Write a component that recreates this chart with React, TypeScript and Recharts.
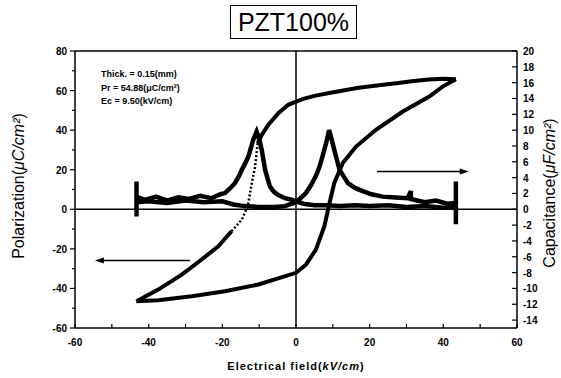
import { ComposedChart, Line, XAxis, YAxis, ReferenceLine, ReferenceDot } from 'recharts'

// hysteresis loop, polarization (uC/cm2) vs field (kV/cm)
const upperE = [43.4, 40, 36, 32, 27.2, 22, 17, 13.6, 9, 5, 2, 0, -2.1, -4.8, -7.5, -9.3, -10.4]
const upperP = [65.7, 66.0, 65.6, 64.8, 63.7, 62.6, 61.4, 60.3, 58.8, 57.3, 55.8, 54.4, 52.8, 48.6, 42.7, 37.6, 33.4]
const switchE = [-10.4, -11.1, -12.0, -13.1, -14.7, -17.5]
const switchP = [33.4, 21.6, 13.3, 1.5, -5.2, -11.1]
const lowerE = [-17.5, -21.1, -25.6, -31, -37.4, -43.3, -37.4, -28.3, -19.3, -10.2, 0, 2.7, 5.4, 7.7, 9.1, 10.4, 12.7, 16.3, 21.7, 29, 36.2, 39.8, 43.4]
const lowerP = [-11.1, -18.7, -25.4, -33, -40.6, -46.5, -46, -43.9, -41.4, -38, -32.1, -28, -20.4, -8.6, 3.2, 13.3, 23.4, 31.7, 40.2, 49.4, 57, 62, 65.7]

// capacitance (uF/cm2), two sweeps
const capAE = [-43.3, -43.3, -43.3, -41, -38, -35, -32, -29, -26, -23, -20.5, -19.3, -18, -16.6, -15.6, -14.7, -13.8, -12.9, -11.6, -10.7, -9.9, -9.3, -8.4, -7.1, -6, -4.8, -3, -1, 0, 2, 5, 8, 12, 16, 20, 25, 30, 35, 40, 43.4]
const capAC = [3.5, -0.9, 1.6, 1.2, 1.6, 1.1, 1.5, 1.3, 1.7, 1.4, 1.9, 2.05, 2.6, 3.3, 4.1, 5.0, 5.8, 6.7, 8.8, 9.8, 8.7, 7.5, 5.0, 2.9, 2.2, 1.8, 1.4, 1.2, 1.0, 0.7, 0.5, 0.5, 0.4, 0.5, 0.4, 0.5, 0.3, 0.4, 0.2, 0.3]
const capBE = [-43.3, -40, -35, -30, -25, -20, -17, -14, -10, -6, -3, 0, 1, 2.7, 4, 5.4, 6.4, 7.2, 8.2, 9.0, 9.7, 10.4, 11.8, 14.1, 16, 18.1, 20.5, 23.5, 27, 30.3, 31.2, 31.2, 32, 35, 38, 41, 43.4, 43.4, 43.4]
const capBC = [0.9, 1.0, 0.8, 1.1, 0.9, 1.0, 0.6, 0.4, 0.3, 0.3, 0.4, 0.9, 1.3, 2.05, 3.0, 4.2, 5.4, 6.7, 8.4, 10.0, 8.8, 7.5, 5.0, 3.3, 2.7, 2.3, 1.9, 1.6, 1.5, 1.4, 2.3, 1.3, 1.2, 0.9, 1.1, 0.7, 0.8, 3.5, -1.9]

const xTicks = [-60, -50, -40, -30, -20, -10, 0, 10, 20, 30, 40, 50, 60]
const pTicks = [-60, -50, -40, -30, -20, -10, 0, 10, 20, 30, 40, 50, 60, 70, 80]
const cTicks = [-14, -12, -10, -8, -6, -4, -2, 0, 2, 4, 6, 8, 10, 12, 14, 16, 18, 20]

const notes = ['Thick. = 0.15(mm)', 'Pr = 54.88(\u03bcC/cm\u00b2)', 'Ec = 9.50(kV/cm)']

const zip = (xs: number[], ys: number[], key: string) => xs.map((e, i) => ({ e, [key]: ys[i] }))

const upper = zip(upperE, upperP, 'p')
const switching = zip(switchE, switchP, 'p')
const lower = zip(lowerE, lowerP, 'p')
const capA = zip(capAE, capAC, 'c')
const capB = zip(capBE, capBC, 'c')

const tickFont = { fontFamily: '"Liberation Sans", Arial, sans-serif', fontSize: 10, fontWeight: 700 }

function LeftTick({ x, y, payload }: any) {
  const major = payload.value % 20 === 0
  return (
    <g>
      <line x1={x - (major ? 5 : 3)} x2={x} y1={y} y2={y} stroke="#000" strokeWidth={1.2} />
      {major && <text x={x - 8} y={y + 4} textAnchor="end" {...tickFont}>{payload.value}</text>}
    </g>
  )
}

function RightTick({ x, y, payload }: any) {
  return (
    <g>
      <line x1={x - 5} x2={x} y1={y} y2={y} stroke="#000" strokeWidth={1.2} />
      <text x={x + 6} y={y + 4} textAnchor="start" {...tickFont}>{payload.value}</text>
    </g>
  )
}

function BottomTick({ x, y, payload }: any) {
  const major = payload.value % 20 === 0
  return (
    <g>
      <line x1={x} x2={x} y1={y - 4} y2={y} stroke="#000" strokeWidth={1.2} />
      {major && <text x={x} y={y + 18} textAnchor="middle" {...tickFont}>{payload.value}</text>}
    </g>
  )
}

const arrowLeft = (p: any) => <polygon points={`${p.cx},${p.cy} ${p.cx + 9},${p.cy - 3} ${p.cx + 9},${p.cy + 3}`} fill="#000" />
const arrowRight = (p: any) => <polygon points={`${p.cx},${p.cy} ${p.cx - 9},${p.cy - 3} ${p.cx - 9},${p.cy + 3}`} fill="#000" />

const sans = '"Liberation Sans", Arial, sans-serif'

export default function App() {
  return (
    <div style={{ position: 'absolute', left: 0, top: 0, width: 561, height: 378, background: '#fff', fontFamily: sans }}>
      <ComposedChart width={561} height={378} margin={{ top: 51, right: 4, bottom: 20, left: 5 }}>
        <XAxis type="number" dataKey="e" domain={[-60, 60]} ticks={xTicks} interval={0} allowDataOverflow
          tick={<BottomTick />} tickLine={false} tickSize={0} tickMargin={0} height={30}
          axisLine={{ stroke: '#000', strokeWidth: 1.5 }} />
        <YAxis yAxisId="p" type="number" domain={[-60, 80]} ticks={pTicks} interval={0} allowDataOverflow
          tick={<LeftTick />} tickLine={false} tickSize={0} tickMargin={0} width={70}
          axisLine={{ stroke: '#000', strokeWidth: 1.5 }} />
        <YAxis yAxisId="c" orientation="right" type="number" domain={[-15, 20]} ticks={cTicks} interval={0} allowDataOverflow
          tick={<RightTick />} tickLine={false} tickSize={0} tickMargin={0} width={40}
          axisLine={{ stroke: '#000', strokeWidth: 1.5 }} />
        <ReferenceLine yAxisId="p" y={80} stroke="#000" strokeWidth={1.5} ifOverflow="visible" />
        <ReferenceLine yAxisId="p" y={0} stroke="#000" strokeWidth={1.5} />
        <ReferenceLine yAxisId="p" x={0} stroke="#000" strokeWidth={1.5} />

        <Line yAxisId="c" data={capA} dataKey="c" type="linear" stroke="#000" strokeWidth={4.5} dot={false} isAnimationActive={false} />
        <Line yAxisId="c" data={capB} dataKey="c" type="linear" stroke="#000" strokeWidth={4.5} dot={false} isAnimationActive={false} />
        <Line yAxisId="p" data={upper} dataKey="p" type="linear" stroke="#000" strokeWidth={4} dot={false} isAnimationActive={false} />
        <Line yAxisId="p" data={switching} dataKey="p" type="linear" stroke="#000" strokeWidth={2.5} strokeDasharray="2 2" dot={false} isAnimationActive={false} />
        <Line yAxisId="p" data={lower} dataKey="p" type="linear" stroke="#000" strokeWidth={4} dot={false} isAnimationActive={false} />

        <ReferenceLine yAxisId="p" segment={[{ x: -28.8, y: -25.9 }, { x: -53, y: -25.9 }]} stroke="#000" strokeWidth={1.5} />
        <ReferenceDot yAxisId="p" x={-54.6} y={-25.9} shape={arrowLeft} />
        <ReferenceLine yAxisId="c" segment={[{ x: 22, y: 4.78 }, { x: 45.5, y: 4.78 }]} stroke="#000" strokeWidth={1.5} />
        <ReferenceDot yAxisId="c" x={46.9} y={4.78} shape={arrowRight} />
      </ComposedChart>

      <div style={{ position: 'absolute', left: 230, top: 5, width: 125, height: 32, border: '1.5px solid #000',
        fontSize: 25, lineHeight: '32px', textAlign: 'center' }}>PZT100%</div>

      {notes.map((n, i) => (
        <div key={n} style={{ position: 'absolute', left: 101, top: 69 + i * 13.5, fontSize: 9, fontWeight: 700, whiteSpace: 'nowrap' }}>{n}</div>
      ))}

      <div style={{ position: 'absolute', left: 19, top: 186, transform: 'translate(-50%, -50%) rotate(-90deg)',
        fontSize: 16, whiteSpace: 'nowrap' }}>Polarization(<i>{'\u03bcC/cm\u00b2'}</i>)</div>
      <div style={{ position: 'absolute', left: 550, top: 193, transform: 'translate(-50%, -50%) rotate(-90deg)',
        fontSize: 16, whiteSpace: 'nowrap' }}>Capacitance(<i>{'\u03bcF/cm\u00b2'}</i>)</div>
      <div style={{ position: 'absolute', left: 296, top: 366, transform: 'translate(-50%, -50%)',
        fontSize: 11, fontWeight: 700, letterSpacing: 1, whiteSpace: 'nowrap' }}>Electrical field(<i>kV/cm</i>)</div>
    </div>
  )
}
